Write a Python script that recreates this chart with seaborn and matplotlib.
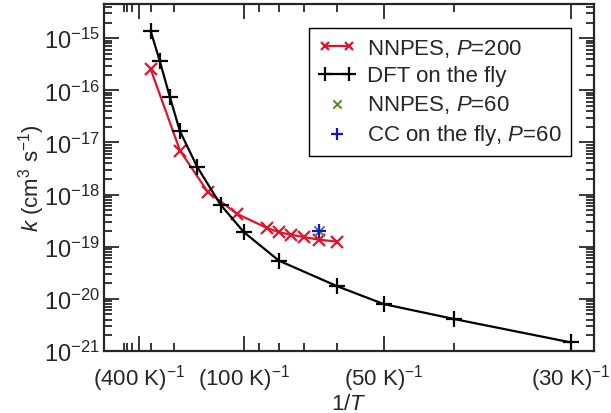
import numpy as np
import pandas as pd
import seaborn as sns
import matplotlib.pyplot as plt
from matplotlib.ticker import FixedLocator, FixedFormatter, LogLocator, NullFormatter

# temperatures (K) and rate constants (cm^3 s^-1)
T_dft = [300, 250, 212, 184, 150, 120, 100, 80, 60, 50, 40, 30]
k_dft = [1.4e-15, 3.6e-16, 7.4e-17, 1.64e-17, 3.4e-18, 6.4e-19,
         1.9e-19, 5.4e-20, 1.74e-20, 7.9e-21, 4.1e-21, 1.46e-21]

T_nn200 = [300, 184, 135, 105, 86, 80, 75, 70, 65, 60]
k_nn200 = [2.6e-16, 7.0e-18, 1.14e-18, 4.25e-19, 2.3e-19, 1.9e-19,
           1.7e-19, 1.53e-19, 1.36e-19, 1.25e-19]

T_p60 = [65]
k_nn60 = [2.0e-19]
k_cc60 = [2.0e-19]

major_T = [400, 100, 50, 30]
minor_T = [700, 600, 500, 300, 200, 90, 80, 70, 60, 40]
k_ticks = [1e-21, 1e-20, 1e-19, 1e-18, 1e-17, 1e-16, 1e-15]

sns.set_style('ticks')
plt.rcParams['font.family'] = ['Liberation Sans', 'DejaVu Sans']
plt.rcParams['mathtext.fontset'] = 'custom'
plt.rcParams['mathtext.rm'] = 'Liberation Sans'
plt.rcParams['mathtext.it'] = 'Liberation Sans:italic'
plt.rcParams['font.size'] = 16

df_dft = pd.DataFrame({'invT': 1 / np.array(T_dft), 'k': k_dft})
df_nn = pd.DataFrame({'invT': 1 / np.array(T_nn200), 'k': k_nn200})
df_60 = pd.DataFrame({'invT': 1 / np.array(T_p60), 'nn': k_nn60, 'cc': k_cc60})

red = '#e3122b'
green = '#4f8a1f'
blue = '#1010e0'

fig = plt.figure(figsize=(6.11, 4.14), dpi=100)
ax = fig.add_axes([0.170, 0.150, 0.802, 0.838])

sns.lineplot(data=df_nn, x='invT', y='k', ax=ax, color=red, lw=1.6,
             marker='x', ms=8, mew=1.6, mec=red, estimator=None, sort=False,
             label=r'NNPES, $P$=200')
sns.lineplot(data=df_dft, x='invT', y='k', ax=ax, color='black', lw=1.6,
             marker='+', ms=12, mew=1.6, mec='black', estimator=None, sort=False,
             label='DFT on the fly')
sns.scatterplot(data=df_60, x='invT', y='nn', ax=ax, color=green, marker='x',
                s=55, linewidth=1.4, label=r'NNPES, $P$=60', zorder=3)
sns.scatterplot(data=df_60, x='invT', y='cc', ax=ax, color=blue, marker='+',
                s=110, linewidth=1.6, label=r'CC on the fly, $P$=60', zorder=4)

ax.set_yscale('log')
ax.set_xlim(0, 0.035)
ax.set_ylim(1e-21, 4.55e-15)

ax.xaxis.set_major_locator(FixedLocator([1 / t for t in major_T]))
ax.xaxis.set_major_formatter(FixedFormatter(
    [r'(%d K)$^{\mathregular{-1}}$' % t for t in major_T]))
ax.xaxis.set_minor_locator(FixedLocator([1 / t for t in minor_T]))
ax.yaxis.set_major_locator(FixedLocator(k_ticks))
ax.yaxis.set_minor_locator(LogLocator(base=10, subs=np.arange(2, 10), numticks=20))
ax.yaxis.set_minor_formatter(NullFormatter())

ax.tick_params(which='both', direction='in', top=True, right=True, width=1.3)
ax.tick_params(which='major', length=11, labelsize=16)
ax.tick_params(axis='x', which='major', pad=8)
ax.tick_params(axis='y', which='major', pad=3, labelsize=17)
ax.tick_params(which='minor', length=6)
for sp in ax.spines.values():
    sp.set_linewidth(1.6)

ax.set_xlabel(r'1/$T$', fontsize=16, labelpad=0)
ax.set_ylabel(r'$k$ (cm$^{3}$ s$^{\mathregular{-1}}$)', fontsize=16, labelpad=-2)

leg = ax.legend(loc='upper right', bbox_to_anchor=(0.953, 0.931),
                borderaxespad=0, fancybox=False, edgecolor='black',
                framealpha=1, numpoints=2, scatterpoints=1, fontsize=16,
                handlelength=1.7, handletextpad=0.5, labelspacing=0.3,
                borderpad=0.4, markerscale=0.8)
leg.get_frame().set_linewidth(1.0)

fig.savefig('out.png', dpi=100)
